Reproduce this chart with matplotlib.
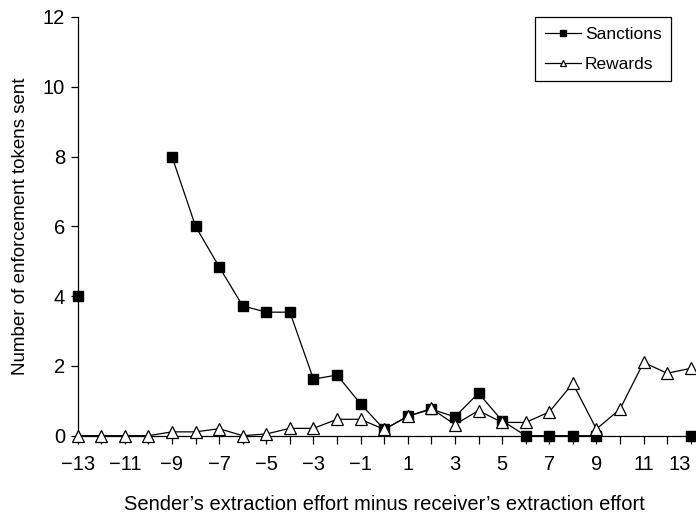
import numpy as np
import matplotlib
matplotlib.use('Agg')
import matplotlib.pyplot as plt

plt.rcParams['font.family'] = ['Liberation Sans', 'DejaVu Sans']

# effort difference categories
diffs = list(range(-13, 14))

# tokens sent (nan = no observation)
sanctions = [4.0, np.nan, np.nan, np.nan, 8.0, 6.0, 4.84, 3.72, 3.54, 3.54, 1.62, 1.74, 0.91,
             0.18, 0.56, 0.76, 0.54, 1.22, 0.43, 0.0, 0.0, 0.0, 0.0, np.nan, np.nan, np.nan, 0.0]
rewards = [0.0, 0.0, 0.0, 0.0, 0.11, 0.11, 0.2, 0.0, 0.05, 0.21, 0.21, 0.47, 0.47,
           0.18, 0.55, 0.78, 0.32, 0.72, 0.38, 0.38, 0.68, 1.5, 0.19, 0.76, 2.1, 1.79, 1.93]

tick_labels = ['\u2212%d' % -d if d < 0 else '%d' % d for d in diffs if d % 2]

fig = plt.figure(figsize=(6.96, 5.15), dpi=100)
ax = fig.add_axes([0.1116, 0.154, 0.8808, 0.813])

ax.plot(diffs, sanctions, color='black', lw=0.9, marker='s', ms=7.5,
        mfc='black', mec='black', label='Sanctions', clip_on=False, zorder=3)
ax.plot(diffs, rewards, color='black', lw=0.9, marker='^', ms=8,
        mfc='white', mec='black', mew=0.9, label='Rewards', clip_on=False, zorder=4)

ax.set_xlim(-13, 13)
ax.set_ylim(0, 12)
ax.set_xticks(diffs, minor=True)
ax.set_xticks([d for d in diffs if d % 2])
ax.set_xticklabels(tick_labels)
ax.set_yticks(range(0, 13, 2))

for s in ['top', 'right']:
    ax.spines[s].set_visible(False)
for s in ['left', 'bottom']:
    ax.spines[s].set_linewidth(0.9)

ax.tick_params(axis='both', which='both', direction='out', width=0.9, labelsize=14.5)
ax.tick_params(axis='x', which='both', length=6, pad=8)
ax.tick_params(axis='y', length=5, pad=4)
# keep the last label inside the figure
ax.get_xticklabels()[-1].set_horizontalalignment('right')

ax.set_xlabel('Sender\u2019s extraction effort minus receiver\u2019s extraction effort',
              fontsize=14.5, labelpad=15)
ax.set_ylabel('Number of enforcement tokens sent', fontsize=13.5, labelpad=10)

leg = ax.legend(loc='upper right', bbox_to_anchor=(0.968, 1.0), borderaxespad=0,
                fontsize=12.5, markerscale=0.55, handlelength=2.1, handletextpad=0.2,
                labelspacing=0.85, borderpad=0.55, fancybox=False, framealpha=1)
leg.get_frame().set_edgecolor('black')
leg.get_frame().set_linewidth(0.9)

fig.savefig('out.png', dpi=100)
